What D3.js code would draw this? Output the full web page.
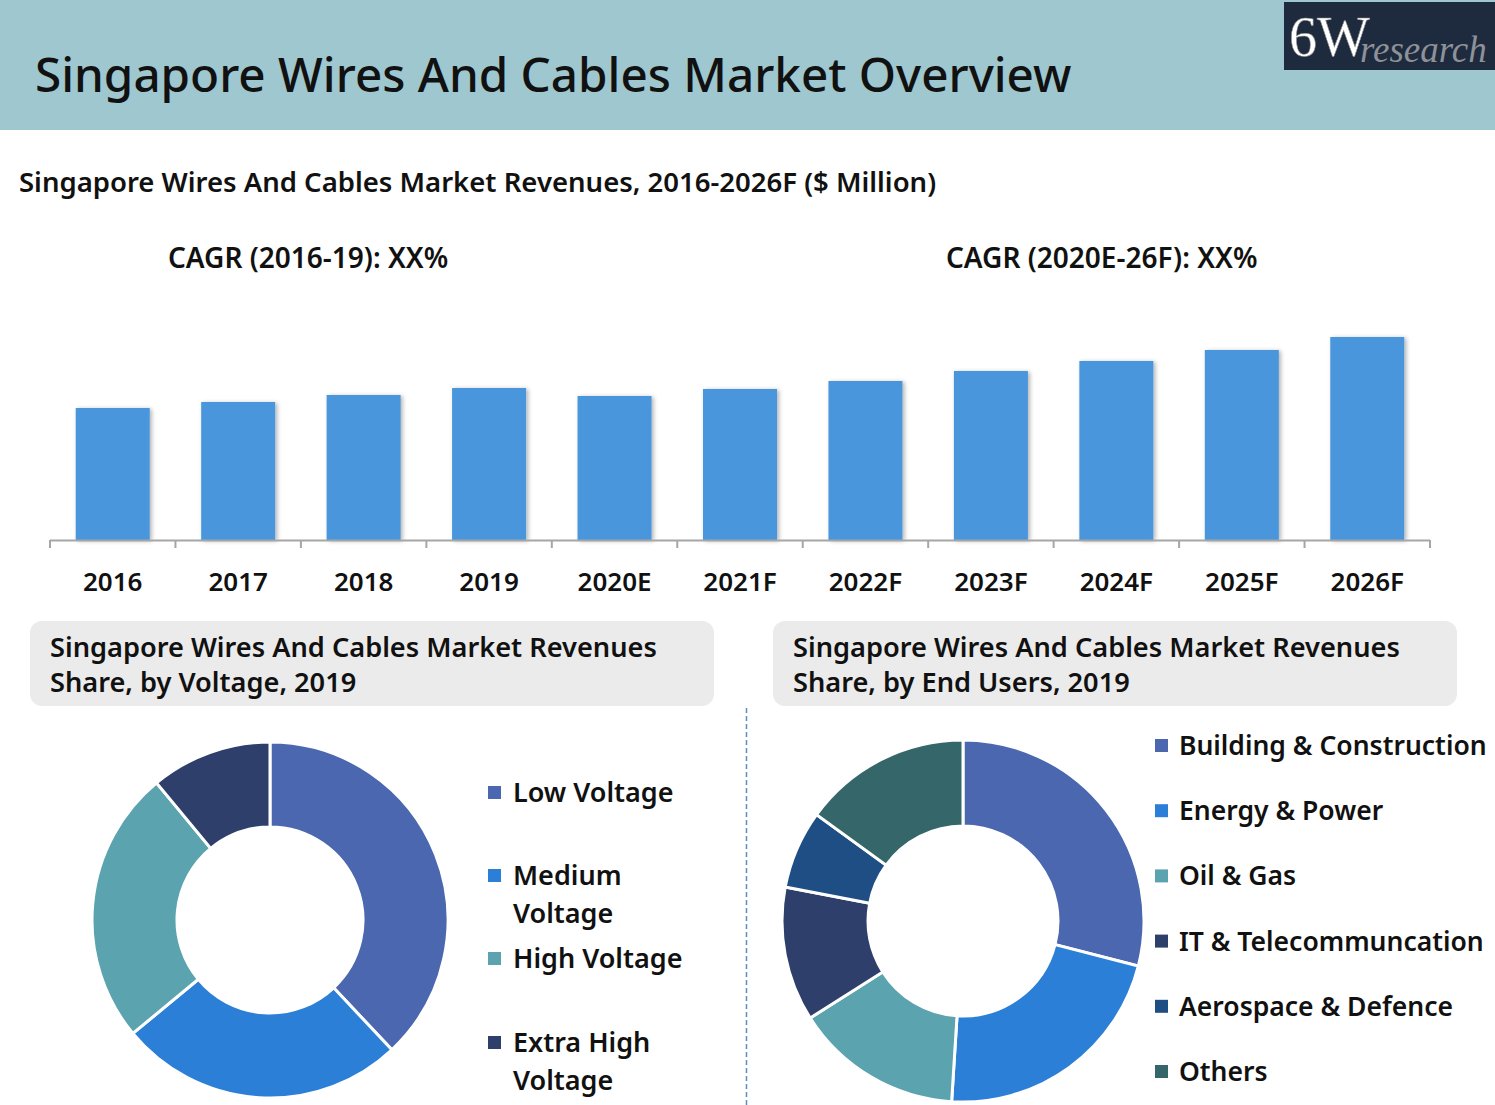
<!DOCTYPE html>
<html>
<head>
<meta charset="utf-8">
<script src="https://cdn.jsdelivr.net/npm/d3@7"></script>
<style>
  body { margin: 0; background: #fff; }
  text { font-family: "Noto Sans", "Open Sans", sans-serif; }
</style>
</head>
<body>
<div id="chart"></div>
<script>
// data
const years = ["2016", "2017", "2018", "2019", "2020E", "2021F", "2022F", "2023F", "2024F", "2025F", "2026F"];
const revenues = [132, 138, 145, 152, 144, 151, 159, 169, 179, 190, 203];

const voltageLabels = ["Low Voltage", "Medium Voltage", "High Voltage", "Extra High Voltage"];
const voltageShares = [38, 26, 25, 11];
const voltageColors = ["#4A67AF", "#2B7FD6", "#5BA3AE", "#2E3F6B"];

const userLabels = ["Building & Construction", "Energy & Power", "Oil & Gas", "IT & Telecommuncation", "Aerospace & Defence", "Others"];
const userShares = [29, 22, 15, 12, 7, 15];
const userColors = ["#4A67AF", "#2B7FD6", "#5BA3AE", "#2E3F6B", "#1F4E85", "#356669"];

const W = 1495, H = 1105;

const svg = d3.select("#chart")
    .append("svg")
    .attr("width", W)
    .attr("height", H);

const defs = svg.append("defs");
const shadow = defs.append("filter").attr("id", "shadow")
    .attr("x", "-10%").attr("y", "-10%").attr("width", "130%").attr("height", "130%");
shadow.append("feDropShadow")
    .attr("dx", 2).attr("dy", 1).attr("stdDeviation", 2)
    .attr("flood-color", "#000").attr("flood-opacity", 0.3);

// header band
svg.append("rect")
    .attr("x", 0).attr("y", 0)
    .attr("width", W).attr("height", 130)
    .attr("fill", "#9EC7CF");

svg.append("text")
    .attr("x", 35).attr("y", 92)
    .attr("font-size", 47.6)
    .attr("font-weight", 500)
    .attr("fill", "#111")
    .text("Singapore Wires And Cables Market Overview");

// logo
svg.append("rect")
    .attr("x", 1284).attr("y", 2)
    .attr("width", 211).attr("height", 68)
    .attr("fill", "#1E2A3E");
svg.append("text")
    .attr("x", 1289).attr("y", 56)
    .attr("font-size", 56)
    .attr("fill", "#fff")
    .attr("stroke", "#888").attr("stroke-width", 0.6)
    .style("font-family", "'Liberation Serif', serif")
    .text("6W");
svg.append("text")
    .attr("x", 1360).attr("y", 62)
    .attr("font-size", 37)
    .attr("font-style", "italic")
    .attr("fill", "#8E9298")
    .style("font-family", "'Liberation Serif', serif")
    .text("research");

// subtitle and CAGR notes
svg.append("text")
    .attr("x", 19).attr("y", 192)
    .attr("font-size", 27.5)
    .attr("font-weight", 600)
    .attr("fill", "#111")
    .text("Singapore Wires And Cables Market Revenues, 2016-2026F ($ Million)");

svg.append("text")
    .attr("x", 168).attr("y", 268)
    .attr("font-size", 28)
    .attr("font-weight", 600)
    .attr("fill", "#111")
    .text("CAGR (2016-19): XX%");
svg.append("text")
    .attr("x", 946).attr("y", 268)
    .attr("font-size", 28)
    .attr("font-weight", 600)
    .attr("fill", "#111")
    .text("CAGR (2020E-26F): XX%");

// bar chart
const x = d3.scaleBand()
    .domain(years)
    .range([50, 1430])
    .paddingInner(0.41)
    .paddingOuter(0.205);

const y = d3.scaleLinear()
    .domain([0, 250])
    .range([540, 290]);

svg.append("g")
    .selectAll("rect")
    .data(revenues)
    .enter()
    .append("rect")
    .attr("x", (d, i) => x(years[i]))
    .attr("y", d => y(d))
    .attr("width", x.bandwidth())
    .attr("height", d => y(0) - y(d))
    .attr("fill", "#4A96DC")
    .attr("filter", "url(#shadow)");

// axis line with ticks at the band edges
const axisColor = "#A6A6A6";
svg.append("line")
    .attr("x1", 50).attr("x2", 1430)
    .attr("y1", 540.5).attr("y2", 540.5)
    .attr("stroke", axisColor).attr("stroke-width", 2);

const edges = years.map((d, i) => 50 + i * x.step()).concat([1430]);
svg.append("g")
    .selectAll("line")
    .data(edges)
    .enter()
    .append("line")
    .attr("x1", d => d).attr("x2", d => d)
    .attr("y1", 540).attr("y2", 548)
    .attr("stroke", axisColor).attr("stroke-width", 2);

const xAxis = svg.append("g")
    .attr("transform", "translate(0,540)")
    .call(d3.axisBottom(x).tickSize(0).tickPadding(33));
xAxis.select(".domain").remove();
xAxis.selectAll("text")
    .attr("font-size", 26)
    .attr("font-weight", 600)
    .attr("fill", "#111")
    .style("font-family", "'Noto Sans', sans-serif");

// panel headers
function panel(px, lines) {
    svg.append("rect")
        .attr("x", px).attr("y", 621)
        .attr("width", 684).attr("height", 85)
        .attr("rx", 12).attr("ry", 12)
        .attr("fill", "#EBEBEB");
    svg.append("text")
        .attr("x", px + 20).attr("y", 657)
        .attr("font-size", 27.2)
        .attr("font-weight", 600)
        .attr("fill", "#111")
        .text(lines[0]);
    svg.append("text")
        .attr("x", px + 20).attr("y", 692)
        .attr("font-size", 27.2)
        .attr("font-weight", 600)
        .attr("fill", "#111")
        .text(lines[1]);
}
panel(30, ["Singapore Wires And Cables Market Revenues", "Share, by Voltage, 2019"]);
panel(773, ["Singapore Wires And Cables Market Revenues", "Share, by End Users, 2019"]);

// dashed divider
svg.append("line")
    .attr("x1", 746.5).attr("x2", 746.5)
    .attr("y1", 708).attr("y2", H)
    .attr("stroke", "#5B8FC0")
    .attr("stroke-width", 1.5)
    .attr("stroke-dasharray", "5,3");

// donuts
const pie = d3.pie().sort(null).value(d => d);

function donut(cx, cy, rOuter, rInner, values, colors) {
    const arc = d3.arc().innerRadius(rInner).outerRadius(rOuter);
    svg.append("g")
        .attr("transform", "translate(" + cx + "," + cy + ")")
        .selectAll("path")
        .data(pie(values))
        .enter()
        .append("path")
        .attr("d", arc)
        .attr("fill", (d, i) => colors[i])
        .attr("stroke", "#fff")
        .attr("stroke-width", 3);
}
donut(270, 920, 178, 93, voltageShares, voltageColors);
donut(963, 921, 181, 95, userShares, userColors);

// left legend (wrapped labels)
const voltageLegendLines = [["Low Voltage"], ["Medium", "Voltage"], ["High Voltage"], ["Extra High", "Voltage"]];
const voltageLegendY = [802, 885, 968, 1052];
voltageLabels.forEach((lab, i) => {
    const ly = voltageLegendY[i];
    svg.append("rect")
        .attr("x", 488).attr("y", ly - 16)
        .attr("width", 13).attr("height", 13)
        .attr("fill", voltageColors[i]);
    voltageLegendLines[i].forEach((t, j) => {
        svg.append("text")
            .attr("x", 513).attr("y", ly + j * 38)
            .attr("font-size", 27)
            .attr("font-weight", 600)
            .attr("fill", "#111")
            .text(t);
    });
});

// right legend
userLabels.forEach((lab, i) => {
    const ly = 755 + i * 65.2;
    svg.append("rect")
        .attr("x", 1155).attr("y", ly - 16)
        .attr("width", 13).attr("height", 13)
        .attr("fill", userColors[i]);
    svg.append("text")
        .attr("x", 1179).attr("y", ly)
        .attr("font-size", 26.5)
        .attr("font-weight", 600)
        .attr("fill", "#111")
        .text(lab);
});
</script>
</body>
</html>
